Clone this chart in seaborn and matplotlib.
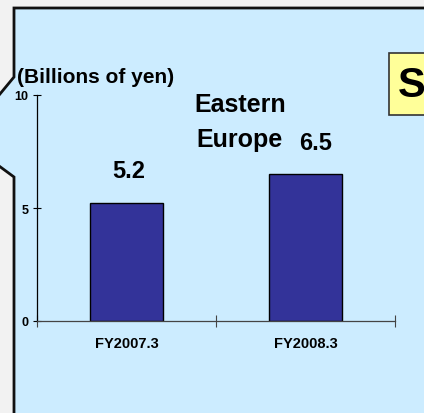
import matplotlib
matplotlib.use("Agg")
import matplotlib.pyplot as plt
import seaborn as sns
import pandas as pd
from matplotlib.patches import Polygon, Rectangle
from matplotlib.ticker import FixedLocator

categories = ["FY2007.3", "FY2008.3"]
values = [5.2, 6.5]
value_labels = ["5.2", "6.5"]
yticks = [0, 5, 10]
unit_label = "(Billions of yen)"
region_title = ["Eastern", "Europe"]

sns.set_style("white")
plt.rcParams["font.family"] = ["Liberation Sans", "DejaVu Sans"]
plt.rcParams["font.weight"] = "bold"
plt.rcParams["text.color"] = "black"
plt.rcParams["xtick.color"] = "black"
plt.rcParams["ytick.color"] = "black"
plt.rcParams["xtick.labelcolor"] = "black"
plt.rcParams["ytick.labelcolor"] = "black"

W, H = 424, 414
fig = plt.figure(figsize=(W / 100, H / 100), dpi=100)
fig.patch.set_facecolor("#F2F2F2")

def fx(x):
    return x / W

def fy(y):
    return 1 - y / H

# callout panel
panel = [(14, 9), (W + 5, 9), (W + 5, H + 5), (14, H + 5), (14, 178), (-5, 164),
         (-5, 101), (14, 78)]
fig.patches.append(Polygon([(fx(a), fy(b)) for a, b in panel], closed=True,
                           transform=fig.transFigure, facecolor="#CCECFF",
                           edgecolor="#111111", linewidth=2.0, zorder=-2))

# yellow box
fig.patches.append(Rectangle((fx(389), fy(116)), fx(60), (116 - 54) / H,
                             transform=fig.transFigure, facecolor="#FFFF99",
                             edgecolor="#333333", linewidth=1.2, zorder=-1))
fig.text(fx(398), fy(86), "S", fontsize=30, fontweight="bold", va="center",
         ha="left", color="black")

ax = fig.add_axes([fx(37), fy(322), fx(395) - fx(37), fy(96) - fy(322)])
ax.set_facecolor("none")

df = pd.DataFrame({"cat": categories, "val": values})
sns.barplot(data=df, x="cat", y="val", ax=ax, color="#333399", width=0.41,
            edgecolor="black", linewidth=1.0, saturation=1)

ax.set_xlim(-0.5, 1.5)
ax.set_ylim(0, 10)
ax.set_yticks(yticks)
ax.set_xlabel("")
ax.set_ylabel("")
for s in ["top", "right"]:
    ax.spines[s].set_visible(False)
ax.spines["left"].set_color("black")
ax.spines["left"].set_linewidth(0.9)
ax.spines["bottom"].set_color("#444444")
ax.spines["bottom"].set_linewidth(0.9)

ax.tick_params(axis="y", which="major", left=True, direction="inout", length=6,
               width=0.8, labelsize=9, pad=3, color="black")
ax.tick_params(axis="x", which="major", bottom=True, length=0, labelsize=10.5, pad=11)
ax.xaxis.set_minor_locator(FixedLocator([-0.5, 0.5, 1.5]))
ax.tick_params(axis="x", which="minor", bottom=True, direction="inout", length=8,
               width=0.8, color="#444444")
for lbl in ax.get_xticklabels() + ax.get_yticklabels():
    lbl.set_fontweight("bold")

label_offsets = [(2, 21), (10, 20)]
for i, (v, t) in enumerate(zip(values, value_labels)):
    ax.annotate(t, (i, v), xytext=label_offsets[i], textcoords="offset pixels",
                ha="center", va="bottom", fontsize=17, fontweight="bold")

fig.text(fx(17), fy(78), unit_label, fontsize=15, fontweight="bold",
         ha="left", va="center")
fig.text(fx(240), fy(105), region_title[0], fontsize=18, fontweight="bold",
         ha="center", va="center")
fig.text(fx(240), fy(140), region_title[1], fontsize=18, fontweight="bold",
         ha="center", va="center")

fig.savefig("out.png", dpi=100, facecolor=fig.get_facecolor())
